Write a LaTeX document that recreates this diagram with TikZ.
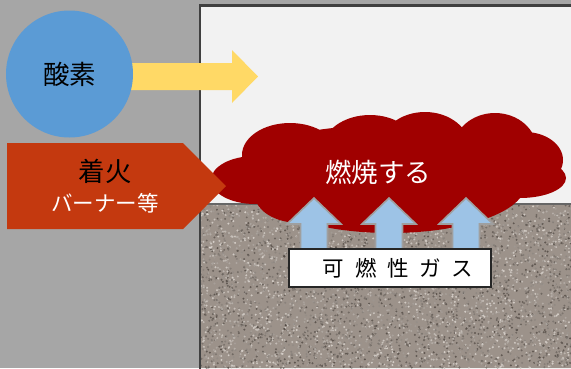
\documentclass[tikz,border=0pt]{standalone}
\usepackage{fontspec}
\setmainfont{Noto Sans CJK JP}
\usetikzlibrary{positioning,calc}
\definecolor{wallgray}{HTML}{A6A6A6}
\definecolor{roomwhite}{HTML}{F2F2F2}
\definecolor{edgegray}{HTML}{404040}
\definecolor{oxyblue}{HTML}{5B9BD5}
\definecolor{flowyellow}{HTML}{FFD966}
\definecolor{ignitered}{HTML}{C4390F}
\definecolor{flamered}{HTML}{A00000}
\definecolor{gasblue}{HTML}{9DC3E6}
\definecolor{groundbase}{HTML}{9C928A}
\definecolor{grainlight}{HTML}{E6E0DA}
\definecolor{graindark}{HTML}{4E4640}
\tikzset{
  bigtext/.style={
    font=\fontsize{26.5}{29}\selectfont,
    inner sep=0pt
  },
  midtext/.style={
    font=\fontsize{21.5}{24}\selectfont,
    inner sep=0pt
  },
  gasarrow/.style={
    fill=gasblue,
    draw=gray!75,
    line width=1.6pt,
    line join=miter
  },
  labelbox/.style={
    draw=black!85,
    fill=white,
    line width=1.2pt,
    inner sep=0pt,
    minimum width=202pt,
    minimum height=38pt
  }
}

\begin{document}
\begin{tikzpicture}[x=1pt,y=-1pt]
  \useasboundingbox (0,0) rectangle (571,368);
  \fill[wallgray] (0,0) rectangle (571,368);

  % room and floor
  \fill[roomwhite] (200,5.5) rectangle (573,370);
  \begin{scope}
    \clip (200,204) rectangle (571,368);
    \fill[groundbase] (200,204) rectangle (571,368);
    \pgfmathsetseed{42}
    \foreach \i in {1,...,5200}{
      \pgfmathsetmacro{\px}{200+rnd*371}
      \pgfmathsetmacro{\py}{204+rnd*164}
      \pgfmathtruncatemacro{\mix}{rnd*100}
      \fill[grainlight!\mix!graindark, opacity=0.8] (\px,\py) circle (1.1);
    }
  \end{scope}
  \draw[edgegray!80, line width=1.4pt] (200,204) -- (572,204);
  \draw[edgegray, line width=2.6pt] (200,370) -- (200,5.5) -- (573,5.5);

  % oxygen supply
  \coordinate (flowend) at (258,76.5);
  \fill[flowyellow] (120,63) -- (232,63) -- (232,50) -- (flowend)
    -- (232,103) -- (232,90) -- (120,90) -- cycle;
  \node[circle, fill=oxyblue, minimum size=127pt, inner sep=0pt] (oxygen) at (69.5,74) {};
  \node[bigtext] (oxytext) at (oxygen.center) {酸素};

  % flame
  \fill[flamered]
    (390,165) ellipse (150 and 40)
    (255,180) ellipse (44 and 24)
    (290,155) ellipse (48 and 32)
    (370,150) ellipse (48 and 35)
    (425,148) ellipse (45 and 36)
    (495,150) ellipse (42 and 37)
    (525,160) ellipse (38 and 28)
    (520,178) ellipse (46 and 20)
    (390,185) ellipse (135 and 48)
    (300,195) ellipse (45 and 28);
  \node[bigtext, text=white] (burn) at (378,172) {燃焼する};

  % ignition source
  \coordinate (igntip) at (226,186);
  \fill[ignitered] (7,143) -- (183,143) -- (igntip) -- (183,229) -- (7,229) -- cycle;
  \node[bigtext] (ignite) at (105,171) {着火};
  \node[midtext, text=white, below=10pt of ignite] (burner) {バーナー等};

  % rising gas
  \foreach \cx [count=\k] in {314,389,466}{
    \coordinate (gas\k) at (\cx,198);
    \draw[gasarrow] (gas\k) -- ++(27,26) -- ++(-13.5,0) -- ++(0,30)
      -- ++(-27,0) -- ++(0,-30) -- ++(-13.5,0) -- cycle;
  }
  \node[labelbox] (gasbox) at (390,268) {};
  \node[midtext, xshift=8pt] (gastext) at (gasbox.center)
    {\spaceskip=0.5em 可 燃 性 ガ ス};
\end{tikzpicture}
\end{document}
